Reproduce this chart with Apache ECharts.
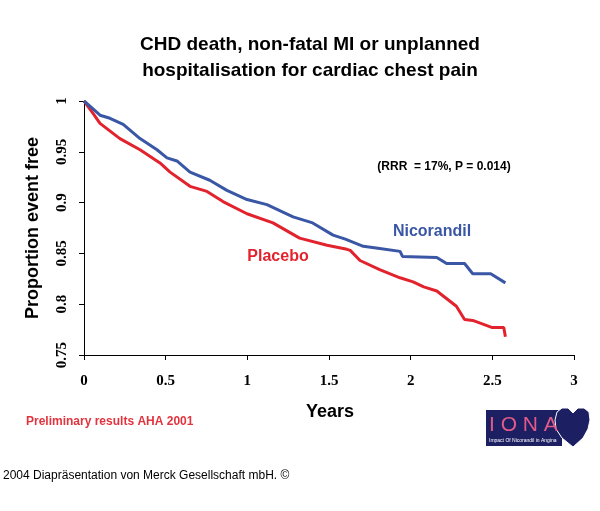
<!DOCTYPE html>
<html>
<head>
<meta charset="utf-8">
<script src="https://cdn.jsdelivr.net/npm/echarts@6/dist/echarts.min.js"></script>
<style>html,body{margin:0;padding:0;background:#fff}#c{width:600px;height:511px}</style>
</head>
<body>
<div id="c"></div>
<script>
var xTicks = [0, 0.5, 1, 1.5, 2, 2.5, 3];
var yTicks = [0.75, 0.8, 0.85, 0.9, 0.95, 1];
var nicorandilX = [0, 0.05, 0.098, 0.159, 0.24, 0.343, 0.447, 0.508, 0.569, 0.649, 0.77, 0.875, 0.998, 1.12, 1.28, 1.40, 1.525, 1.60, 1.71, 1.80, 1.935, 1.95, 2.16, 2.22, 2.33, 2.38, 2.49, 2.58];
var nicorandilY = [1, 0.993, 0.986, 0.983, 0.977, 0.963, 0.952, 0.944, 0.941, 0.930, 0.922, 0.912, 0.903, 0.898, 0.886, 0.880, 0.868, 0.864, 0.857, 0.855, 0.852, 0.847, 0.846, 0.840, 0.840, 0.830, 0.830, 0.821];
var placeboX = [0, 0.05, 0.098, 0.22, 0.343, 0.465, 0.527, 0.649, 0.753, 0.851, 0.998, 1.157, 1.32, 1.488, 1.61, 1.63, 1.69, 1.81, 1.935, 2.015, 2.08, 2.16, 2.28, 2.33, 2.38, 2.5, 2.57, 2.58];
var placeboY = [1, 0.989, 0.978, 0.963, 0.952, 0.939, 0.930, 0.916, 0.911, 0.901, 0.889, 0.880, 0.865, 0.858, 0.854, 0.853, 0.843, 0.834, 0.826, 0.822, 0.817, 0.813, 0.798, 0.785, 0.784, 0.777, 0.777, 0.768];

function pairs(xs, ys){ return xs.map(function(x,i){return [x, ys[i]];}); }

var chart = echarts.init(document.getElementById('c'), null, {renderer:'canvas'});
var serif = '"Liberation Serif","DejaVu Serif",serif';
var sans = '"Liberation Sans",Arial,sans-serif';
chart.setOption({
  animation: false,
  backgroundColor: '#fff',
  grid: {left: 84, right: 26, top: 101, bottom: 156, containLabel: false},
  xAxis: {
    type: 'value', min: 0, max: 3, interval: 0.5,
    axisLine: {show: true, lineStyle: {color: '#000', width: 1}},
    axisTick: {show: true, length: 5, lineStyle: {color: '#000'}},
    splitLine: {show: false},
    axisLabel: {margin: 19, color: '#000', fontFamily: serif, fontWeight: 'bold', fontSize: 15,
      formatter: function(v){ return xTicks.indexOf(v) >= 0 ? String(v) : ''; }}
  },
  yAxis: {
    type: 'value', min: 0.75, max: 1, interval: 0.05,
    axisLine: {show: true, lineStyle: {color: '#000', width: 1}},
    axisTick: {show: true, length: 5, lineStyle: {color: '#000'}},
    splitLine: {show: false},
    axisLabel: {margin: 14, rotate: 90, color: '#000', fontFamily: serif, fontWeight: 'bold', fontSize: 15,
      formatter: function(v){ var r = Math.round(v*100)/100; return yTicks.indexOf(r) >= 0 ? String(r) : ''; }}
  },
  series: [
    {name: 'Nicorandil', type: 'line', data: pairs(nicorandilX, nicorandilY), showSymbol: false,
      lineStyle: {color: '#3a57a6', width: 3}, itemStyle: {color: '#3a57a6'}, z: 3},
    {name: 'Placebo', type: 'line', data: pairs(placeboX, placeboY), showSymbol: false,
      lineStyle: {color: '#e2232e', width: 3}, itemStyle: {color: '#e2232e'}, z: 2}
  ],
  graphic: [
    {type: 'text', x: 310, y: 32, style: {text: 'CHD death, non-fatal MI or unplanned\nhospitalisation for cardiac chest pain',
      font: 'bold 19px ' + sans, fill: '#000', textAlign: 'center', lineHeight: 26}},
    {type: 'text', x: 33, y: 228, rotation: Math.PI/2, style: {text: 'Proportion event free', font: 'bold 18px ' + sans,
      fill: '#000', textAlign: 'center', textVerticalAlign: 'middle'}},
    {type: 'text', x: 444, y: 167, style: {text: '(RRR  = 17%, P = 0.014)', font: 'bold 12px ' + sans,
      fill: '#000', textAlign: 'center', textVerticalAlign: 'middle'}},
    {type: 'text', x: 432, y: 232, style: {text: 'Nicorandil', font: 'bold 16px ' + sans,
      fill: '#3a57a6', textAlign: 'center', textVerticalAlign: 'middle'}},
    {type: 'text', x: 278, y: 257, style: {text: 'Placebo', font: 'bold 16px ' + sans,
      fill: '#e2232e', textAlign: 'center', textVerticalAlign: 'middle'}},
    {type: 'text', x: 330, y: 412, style: {text: 'Years', font: 'bold 18px ' + sans,
      fill: '#000', textAlign: 'center', textVerticalAlign: 'middle'}},
    {type: 'text', x: 26, y: 422, style: {text: 'Preliminary results AHA 2001', font: 'bold 12px ' + sans,
      fill: '#e2343e', textAlign: 'left', textVerticalAlign: 'middle'}},
    {type: 'rect', shape: {x: 486, y: 410, width: 76, height: 36}, style: {fill: '#1d1f63'}},
    {type: 'polygon', shape: {points: [[573,447],[562,438],[556,429],[555,420],[557,412],[562,408],[568,408],[573,413],[578,408],[584,408],[589,412],[590,420],[588,429],[583,438]]},
      style: {fill: '#1d1f63', stroke: '#fff', lineWidth: 1}},
    {type: 'text', x: 489, y: 425, style: {text: 'I O N A', font: '21px ' + sans, fill: '#e25a8a',
      textAlign: 'left', textVerticalAlign: 'middle'}},
    {type: 'text', x: 489, y: 441, style: {text: 'Impact Of Nicorandil in Angina', font: '5px ' + sans, fill: '#fff',
      textAlign: 'left', textVerticalAlign: 'middle'}},
    {type: 'text', x: 3, y: 476, style: {text: '2004 Diapräsentation von Merck Gesellschaft mbH. ©', font: '12px ' + sans,
      fill: '#000', textAlign: 'left', textVerticalAlign: 'middle'}}
  ]
});
</script>
</body>
</html>
